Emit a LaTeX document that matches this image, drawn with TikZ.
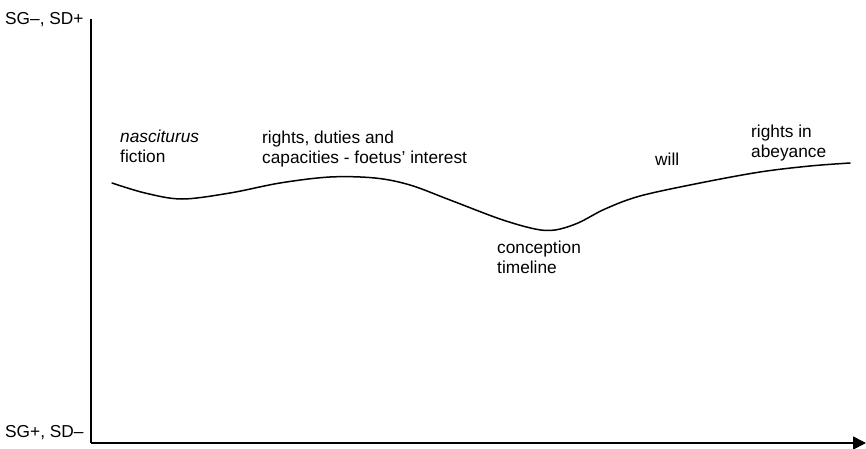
\documentclass[tikz,border=0pt]{standalone}
\usepackage{fontspec}
\setmainfont{Liberation Sans}
\usetikzlibrary{arrows.meta}
\begin{document}
\begin{tikzpicture}[x=1pt,y=-1pt,
  axisline/.style={line width=1.7pt},
  curveline/.style={line width=1.5pt, line cap=round},
  lbl/.style={anchor=base west, inner sep=0pt, align=left, font=\fontsize{17.3}{20}\selectfont}]
\useasboundingbox (0,0) rectangle (866,449);
% axes
\coordinate (top) at (91,19);
\coordinate (origin) at (91,443);
\coordinate (tip) at (866,443);
\draw[axisline] (top) -- (origin);
\draw[axisline, -{Triangle[length=13pt,width=13pt]}] (origin) -- (tip);
% axis labels
\node[lbl] (hi) at (5,25) {SG–, SD+};
\node[lbl] (lo) at (5,437) {SG+, SD–};
% profile curve
\draw[curveline] plot[smooth, tension=0.55] coordinates {
  (112,183) (145,193) (182,199) (230,193) (280,183) (330,177) (375,178)
  (410,185) (450,200) (500,219) (535,229) (555,230) (578,223) (605,209)
  (640,196) (700,183) (760,172) (810,166) (850,163)};
% annotations (base anchor sits on the last line)
\node[lbl] (nasc) at (120,162.7) {\textit{nasciturus}\\fiction};
\node[lbl] (rights) at (262,164) {rights, duties and\\capacities - foetus’ interest};
\node[lbl] (will) at (655,165) {will};
\node[lbl] (abey) at (751,157.7) {rights in\\abeyance};
\node[lbl] (conc) at (497,273.3) {conception\\timeline};
\end{tikzpicture}
\end{document}
